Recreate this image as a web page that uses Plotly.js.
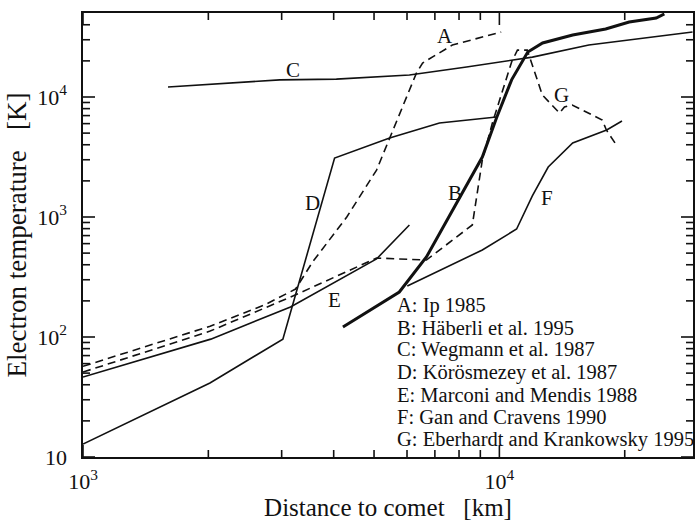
<!DOCTYPE html>
<html>
<head>
<meta charset="utf-8">
<script src="https://cdn.plot.ly/plotly-3.0.1.min.js"></script>
<style>
  html, body { margin: 0; padding: 0; background: #fff; }
  #chart { width: 697px; height: 524px; }
</style>
</head>
<body>
<div id="chart"></div>
<script>
// Electron temperature profiles vs. distance to the comet nucleus (km, K)
const aX = [1000, 2020, 2730, 3240, 3560, 4300, 5070, 6320, 6540, 7710, 10100];
const aY = [57, 123, 185, 251, 422, 1000, 2460, 15800, 19200, 27100, 34800];

const bX = [4210, 5750, 6680, 7710, 9100, 9840, 10700, 11700, 12700, 15000, 18000, 20500, 23800, 24900];
const bY = [121, 237, 464, 1140, 3160, 6680, 13900, 23700, 28200, 32900, 36900, 42200, 45500, 49200];

const cX = [1600, 2970, 4060, 6080, 8340, 12000, 16400, 29100];
const cY = [12100, 13900, 14100, 15250, 17800, 21500, 27100, 34800];

const dX = [1000, 2018, 3020, 4020, 5450, 7180, 9840];
const dY = [12.8, 41.4, 96, 3100, 4550, 6070, 6810];

const eX = [1000, 2027, 3150, 5070, 6080];
const eY = [46.4, 96, 178, 447, 858];

const fX = [6010, 9100, 11000, 12000, 13100, 15000, 18100, 19700];
const fY = [266, 531, 794, 1500, 2610, 4140, 5310, 6310];

const gX = [1000, 2020, 3150, 5070, 6680, 8610, 9100, 9620, 10700, 11050, 11670, 12000, 12680, 13940, 14330, 14960, 17660, 18070, 19100];
const gY = [51, 112, 215, 455, 438, 858, 2990, 6070, 19600, 24600, 24600, 18500, 10400, 7360, 8260, 8580, 6430, 5310, 3980];

const curveLetters = ['A', 'B', 'C', 'D', 'E', 'F', 'G'];
const legendLines = [
  'A: Ip 1985',
  'B: Häberli et al. 1995',
  'C: Wegmann et al. 1987',
  'D: Körösmezey et al. 1987',
  'E: Marconi and Mendis 1988',
  'F: Gan and Cravens 1990',
  'G: Eberhardt and Krankowsky 1995'
];

// axis tick positions
const xMajor = [1000, 10000];
const xMajorText = ['10<sup>3</sup>', '10<sup>4</sup>'];
const xMinor = [2000, 3000, 4000, 5000, 6000, 7000, 8000, 9000, 20000];
const yMajor = [10, 100, 1000, 10000];
const yMajorText = ['10', '10<sup>2</sup>', '10<sup>3</sup>', '10<sup>4</sup>'];
const yMinor = [20, 30, 40, 50, 60, 70, 80, 90,
                200, 300, 400, 500, 600, 700, 800, 900,
                2000, 3000, 4000, 5000, 6000, 7000, 8000, 9000,
                20000, 30000, 40000];

const ink = '#111';
const serif = 'Liberation Serif, Times New Roman, serif';
const dashed = '8px,5px';
const xRange = [3, 4.465];
const yRange = [1, 4.7];

const W = 697, H = 524;
const M = { l: 83, r: 4, t: 13, b: 67 };
const plotW = W - M.l - M.r, plotH = H - M.t - M.b;

function line(x, y, width, dash) {
  return {
    x: x, y: y, type: 'scatter', mode: 'lines',
    line: { color: ink, width: width, dash: dash || 'solid' },
    hoverinfo: 'skip', showlegend: false
  };
}

// inside tick marks on all four sides, built as one segment trace
// (lengths in px converted to log-scale factors)
const tx = [], ty = [];
const xLo = Math.pow(10, xRange[0]), xHi = Math.pow(10, xRange[1]);
const yLo = Math.pow(10, yRange[0]), yHi = Math.pow(10, yRange[1]);
function addXTicks(vals, len) {
  const f = Math.pow(10, len / plotH * (yRange[1] - yRange[0]));
  vals.forEach(v => {
    tx.push(v, v, null, v, v, null);
    ty.push(yLo, yLo * f, null, yHi, yHi / f, null);
  });
}
function addYTicks(vals, len) {
  const g = Math.pow(10, len / plotW * (xRange[1] - xRange[0]));
  vals.forEach(v => {
    tx.push(xLo, xLo * g, null, xHi, xHi / g, null);
    ty.push(v, v, null, v, v, null);
  });
}
addXTicks(xMinor, 7);
addXTicks(xMajor, 12);
addYTicks(yMinor, 7);
addYTicks(yMajor, 12);

const traces = [
  line(cX, cY, 1.6),
  line(dX, dY, 1.6),
  line(eX, eY, 1.6),
  line(fX, fY, 1.6),
  line(aX, aY, 1.6, dashed),
  line(gX, gY, 1.6, dashed),
  line(bX, bY, 3),
  Object.assign(line(tx, ty, 1.6), { connectgaps: false })
];

// positions of the curve letters (paper fractions)
const letterPos = {
  A: [0.593, 0.948], B: [0.610, 0.595], C: [0.344, 0.872], D: [0.377, 0.572],
  E: [0.413, 0.354], F: [0.761, 0.583], G: [0.785, 0.815]
};

const annotations = curveLetters.map(k => ({
  xref: 'paper', yref: 'paper', x: letterPos[k][0], y: letterPos[k][1],
  text: k, showarrow: false, xanchor: 'center', yanchor: 'middle',
  font: { family: serif, size: 21, color: ink }
}));

legendLines.forEach((t, i) => {
  annotations.push({
    xref: 'paper', yref: 'paper', x: 0.511, y: 0.342 - i * 0.0505,
    text: t, showarrow: false, xanchor: 'left', yanchor: 'middle',
    font: { family: serif, size: 20.5, color: ink }
  });
});

const axisCommon = {
  type: 'log', showgrid: false, zeroline: false,
  showline: true, linecolor: ink, linewidth: 1.6, mirror: true,
  ticks: '', tickfont: { family: serif, size: 22, color: ink }
};

const layout = {
  width: W, height: H,
  margin: M,
  paper_bgcolor: '#fff', plot_bgcolor: '#fff',
  showlegend: false,
  xaxis: Object.assign({}, axisCommon, {
    range: xRange,
    tickvals: xMajor,
    ticktext: xMajorText,
    ticklabelstandoff: 4,
    title: { text: 'Distance to comet   [km]', font: { family: serif, size: 25, color: ink }, standoff: 4 }
  }),
  yaxis: Object.assign({}, axisCommon, {
    range: yRange,
    tickvals: yMajor,
    ticktext: yMajorText,
    ticklabelstandoff: 10,
    title: { text: 'Electron temperature   [K]', font: { family: serif, size: 27, color: ink }, standoff: 3 }
  }),
  annotations: annotations
};

Plotly.newPlot('chart', traces, layout, { staticPlot: true, displayModeBar: false });
</script>
</body>
</html>
